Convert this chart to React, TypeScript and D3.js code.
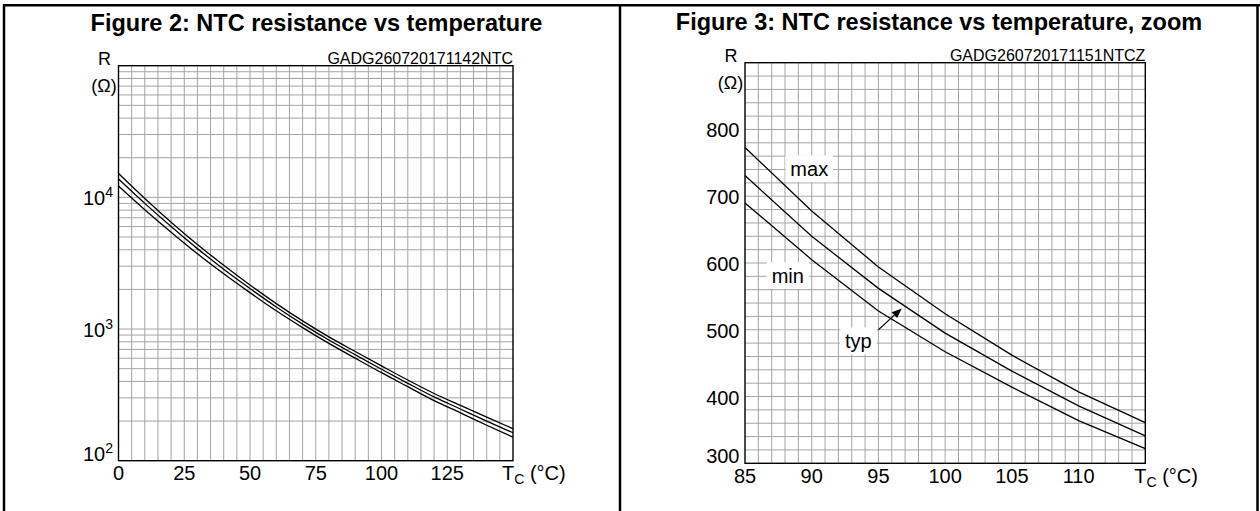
import React, { useEffect, useRef } from 'react';
import * as d3 from 'd3';

// Figure 2 - NTC resistance vs temperature (full range, log R)
const tempFull = [0, 10, 20, 30, 40, 50, 60, 70, 80, 90, 100, 110, 120, 130, 140, 150];
const rMaxFull = [15200, 9810, 6480, 4390, 3050, 2160, 1560, 1153, 871, 675, 525, 410, 324, 263, 214, 175];
const rTypFull = [13800, 9000, 6000, 4080, 2850, 2030, 1470, 1090, 825, 638, 495, 387, 305, 247, 200, 163];
const rMinFull = [12200, 8050, 5430, 3730, 2630, 1890, 1375, 1025, 778, 601, 466, 365, 286, 231, 186, 151];
const fullXTicks = [0, 25, 50, 75, 100, 125];
const fullYTicks = [100, 1000, 10000];

// Figure 3 - zoom on 85..115 °C
const tempZoom = [85, 90, 95, 100, 105, 110, 115];
const rMaxZoom = [773, 678, 594, 524, 462, 407, 361];
const rTypZoom = [731, 640, 562, 495, 438, 386, 341];
const rMinZoom = [690, 605, 528, 467, 414, 364, 322];
const zoomXTicks = [85, 90, 95, 100, 105, 110];
const zoomYTicks = [300, 400, 500, 600, 700, 800];

// curve names on figure 3 (temperature, resistance of the text baseline start)
const curveLabels = [
    { text: 'max', t: 88.4, r: 730 },
    { text: 'min', t: 87.0, r: 570 },
    { text: 'typ', t: 92.5, r: 472 },
];
const typArrow = { from: [95, 500], to: [96.75, 532] };

const FONT = "'Liberation Sans', Arial, Helvetica, sans-serif";
const GRID = '#a4a4a4';

function drawPanel(svg: any, p: any) {
    const [x0, x1] = p.x.range();
    const [yb, yt] = p.y.range();
    const g = svg.append('g').attr('font-family', FONT);

    // grid
    g.selectAll('line.v').data(p.vGrid).enter().append('line')
        .attr('x1', (d: number) => p.x(d)).attr('x2', (d: number) => p.x(d))
        .attr('y1', yt).attr('y2', yb)
        .attr('stroke', GRID).attr('stroke-width', 1);
    g.selectAll('line.h').data(p.hGrid).enter().append('line')
        .attr('x1', x0).attr('x2', x1)
        .attr('y1', (d: number) => p.y(d)).attr('y2', (d: number) => p.y(d))
        .attr('stroke', GRID).attr('stroke-width', 1);

    // white boxes behind curve names (drawn before curves)
    const boxes = g.append('g');

    // frame
    g.append('rect')
        .attr('x', x0).attr('y', yt).attr('width', x1 - x0).attr('height', yb - yt)
        .attr('fill', 'none').attr('stroke', '#000').attr('stroke-width', 1.4);

    // curves
    const line = d3.line<number>()
        .x((_, i) => p.x(p.temps[i]))
        .y(d => p.y(d))
        .curve(p.curve);
    p.series.forEach((s: number[]) => {
        g.append('path').attr('d', line(s))
            .attr('fill', 'none').attr('stroke', '#000').attr('stroke-width', 1.3);
    });

    // x tick labels
    g.selectAll('text.xt').data(p.xTicks).enter().append('text')
        .attr('x', (d: number) => p.x(d)).attr('y', yb + 19.6)
        .attr('text-anchor', 'middle').attr('font-size', 20)
        .text((d: number) => d);

    const tc = g.append('text').attr('x', x1 - 11).attr('y', yb + 19.6).attr('font-size', 20);
    tc.append('tspan').text('T');
    tc.append('tspan').attr('font-size', 14).attr('dy', 4).text('C');
    tc.append('tspan').attr('dy', -4).text('\u00a0(°C)');

    // y tick labels
    p.yTicks.forEach((d: number, i: number) => {
        const t = g.append('text')
            .attr('x', x0 - 5.5)
            .attr('y', i === 0 ? yb : p.y(d) + 8)
            .attr('text-anchor', 'end').attr('font-size', 20);
        if (p.logLabels) {
            t.append('tspan').text('10');
            t.append('tspan').attr('font-size', 14).attr('dy', -8).text(Math.round(Math.log10(d)));
        } else {
            t.text(d);
        }
    });

    // axis name
    g.append('text').attr('x', x0 - 14).attr('y', yt - 0.5)
        .attr('text-anchor', 'middle').attr('font-size', 18).text('R');
    g.append('text').attr('x', x0 - 14.5).attr('y', yt + 26)
        .attr('text-anchor', 'middle').attr('font-size', 18).text('(Ω)');

    // figure code
    g.append('text').attr('x', x1).attr('y', yt - 1.5)
        .attr('text-anchor', 'end').attr('font-size', 16).text(p.code);

    // title
    g.append('text').attr('x', p.titleX).attr('y', p.titleY)
        .attr('text-anchor', 'middle').attr('font-size', 23.5).attr('font-weight', 'bold')
        .text(p.title);

    // curve names
    (p.labels || []).forEach((l: any) => {
        const t = g.append('text').attr('x', p.x(l.t)).attr('y', p.y(l.r))
            .attr('font-size', 20).text(l.text);
        const bb = t.node().getBBox();
        boxes.append('rect')
            .attr('x', bb.x - 5).attr('y', bb.y - 3)
            .attr('width', bb.width + 10).attr('height', bb.height + 5)
            .attr('fill', '#fff');
    });

    if (p.arrow) {
        const ax0 = p.x(p.arrow.from[0]), ay0 = p.y(p.arrow.from[1]);
        const ax1 = p.x(p.arrow.to[0]), ay1 = p.y(p.arrow.to[1]);
        const ang = Math.atan2(ay1 - ay0, ax1 - ax0);
        const len = 10, half = 4;
        const bx = ax1 - len * Math.cos(ang), by = ay1 - len * Math.sin(ang);
        g.append('line').attr('x1', ax0).attr('y1', ay0).attr('x2', bx).attr('y2', by)
            .attr('stroke', '#000').attr('stroke-width', 1.1);
        g.append('path')
            .attr('d', `M${ax1},${ay1}L${bx - half * Math.sin(ang)},${by + half * Math.cos(ang)}L${bx + half * Math.sin(ang)},${by - half * Math.cos(ang)}Z`)
            .attr('fill', '#000');
    }
}

const App = () => {
    const ref = useRef<SVGSVGElement>(null);

    useEffect(() => {
        if (!ref.current) return;
        const svg = d3.select(ref.current);
        svg.selectAll('*').remove();

        svg.append('rect').attr('width', 1260).attr('height', 511).attr('fill', '#fff');

        // outer frame of the two figures
        svg.append('line').attr('x1', 3).attr('x2', 1260).attr('y1', 5.3).attr('y2', 5.3)
            .attr('stroke', '#000').attr('stroke-width', 2.5);
        [4, 620, 1257.5].forEach(x => {
            svg.append('line').attr('x1', x).attr('x2', x).attr('y1', 4).attr('y2', 511)
                .attr('stroke', '#000').attr('stroke-width', 2.5);
        });

        const xL = d3.scaleLinear().domain([0, 150]).range([118.5, 513]);
        const yL = d3.scaleLog().domain([100, 100000]).range([460.7, 65.7]);
        drawPanel(svg, {
            x: xL, y: yL,
            vGrid: xL.ticks(30).filter(d => d > 0 && d < 150),
            hGrid: yL.ticks().filter(d => d > 100 && d < 100000),
            temps: tempFull,
            series: [rMaxFull, rTypFull, rMinFull],
            curve: d3.curveMonotoneX,
            xTicks: fullXTicks, yTicks: fullYTicks, logLabels: true,
            code: 'GADG260720171142NTC',
            title: 'Figure 2: NTC resistance vs temperature', titleX: 316.5, titleY: 31,
        });

        const xR = d3.scaleLinear().domain([85, 115]).range([745, 1145.3]);
        const yR = d3.scaleLinear().domain([300, 900]).range([463.3, 62.7]);
        drawPanel(svg, {
            x: xR, y: yR,
            vGrid: xR.ticks(30).filter(d => d > 85 && d < 115),
            hGrid: yR.ticks(30).filter(d => d > 300 && d < 900),
            temps: tempZoom,
            series: [rMaxZoom, rTypZoom, rMinZoom],
            curve: d3.curveLinear,
            xTicks: zoomXTicks, yTicks: zoomYTicks, logLabels: false,
            code: 'GADG260720171151NTCZ',
            title: 'Figure 3: NTC resistance vs temperature, zoom', titleX: 939, titleY: 29.5,
            labels: curveLabels, arrow: typArrow,
        });
    }, []);

    return (
        <svg ref={ref} width={1260} height={511}
            style={{ position: 'absolute', left: 0, top: 0, display: 'block' }} />
    );
};

export default App;
